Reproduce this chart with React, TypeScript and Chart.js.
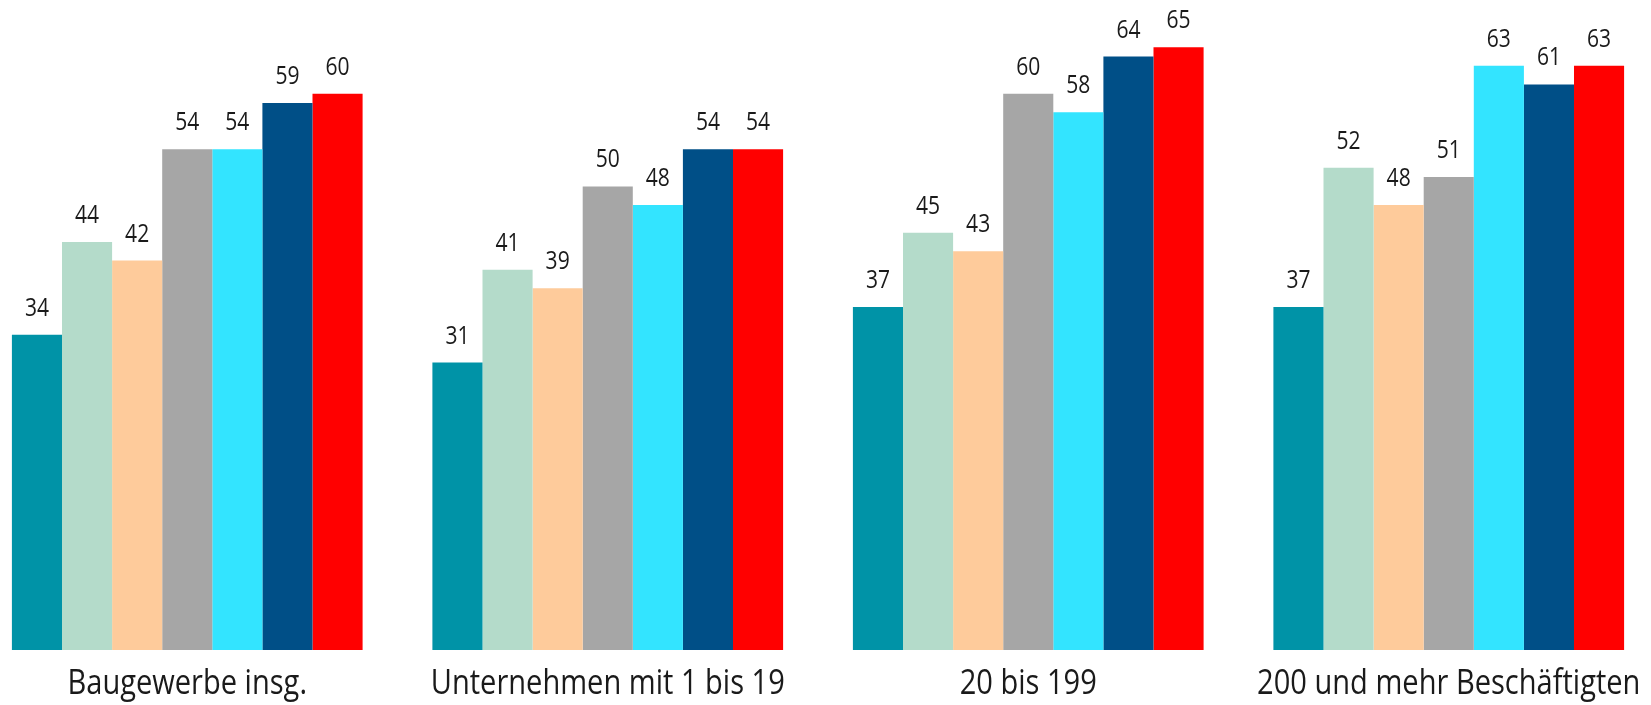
import React, { useEffect, useRef } from "react";
import { Chart, registerables } from "chart.js";

Chart.register(...registerables);

const categories = [
  "Baugewerbe insg.",
  "Unternehmen mit 1 bis 19",
  "20 bis 199",
  "200 und mehr Beschäftigten",
];

const series1 = [34, 31, 37, 37];
const series2 = [44, 41, 45, 52];
const series3 = [42, 39, 43, 48];
const series4 = [54, 50, 60, 51];
const series5 = [54, 48, 58, 63];
const series6 = [59, 54, 64, 61];
const series7 = [60, 54, 65, 63];

const seriesValues = [series1, series2, series3, series4, series5, series6, series7];
const seriesColors = [
  "#0093A7",
  "#B4DBCA",
  "#FECB9B",
  "#A6A6A6",
  "#33E4FF",
  "#004F87",
  "#FF0000",
];

const W = 1651;
const H = 705;
const CANVAS_W = 1682;
const CANVAS_LEFT = -23;
const FONT = "'Open Sans', 'Noto Sans', sans-serif";

function drawCondensed(
  ctx: CanvasRenderingContext2D,
  text: string,
  x: number,
  y: number,
  sx: number
) {
  ctx.save();
  ctx.translate(x, y);
  ctx.scale(sx, 1);
  ctx.fillText(text, 0, 0);
  ctx.restore();
}

const textPlugin = {
  id: "textLabels",
  afterDatasetsDraw(chart: any) {
    const ctx = chart.ctx as CanvasRenderingContext2D;
    ctx.save();
    ctx.fillStyle = "#1a1a1a";
    ctx.textAlign = "center";
    ctx.textBaseline = "alphabetic";
    // value labels
    ctx.font = `26px ${FONT}`;
    chart.data.datasets.forEach((ds: any, i: number) => {
      const meta = chart.getDatasetMeta(i);
      meta.data.forEach((bar: any, j: number) => {
        drawCondensed(ctx, String(ds.data[j]), bar.x, bar.y - 19, 0.81);
      });
    });
    // category labels
    ctx.font = `35px ${FONT}`;
    const xs = chart.scales.x;
    chart.data.labels.forEach((lab: string, i: number) => {
      drawCondensed(ctx, lab, xs.getPixelForValue(i), chart.chartArea.bottom + 44, 0.83);
    });
    ctx.restore();
  },
};

export default function App() {
  const ref = useRef<HTMLCanvasElement>(null);
  useEffect(() => {
    if (!ref.current) return;
    const chart = new Chart(ref.current, {
      type: "bar",
      data: {
        labels: categories,
        datasets: seriesValues.map((vals, i) => ({
          label: `S${i + 1}`,
          data: vals,
          backgroundColor: seriesColors[i],
          borderWidth: 0,
          barPercentage: 1.0,
          categoryPercentage: 0.834,
        })),
      },
      options: {
        animation: false,
        responsive: false,
        layout: { padding: { left: 0, right: 0, top: 0, bottom: 55 } },
        plugins: {
          legend: { display: false },
          tooltip: { enabled: false },
        },
        scales: {
          x: {
            display: false,
          },
          y: {
            display: false,
            min: 0,
            max: 70.1,
          },
        },
      },
      plugins: [textPlugin],
    });
    return () => chart.destroy();
  }, []);
  return (
    <div
      style={{
        position: "absolute",
        left: 0,
        top: 0,
        width: W,
        height: H,
        overflow: "hidden",
        background: "#fff",
      }}
    >
      <canvas
        ref={ref}
        width={CANVAS_W}
        height={H}
        style={{ position: "absolute", left: CANVAS_LEFT, top: 0, width: CANVAS_W, height: H, display: "block" }}
      />
    </div>
  );
}
